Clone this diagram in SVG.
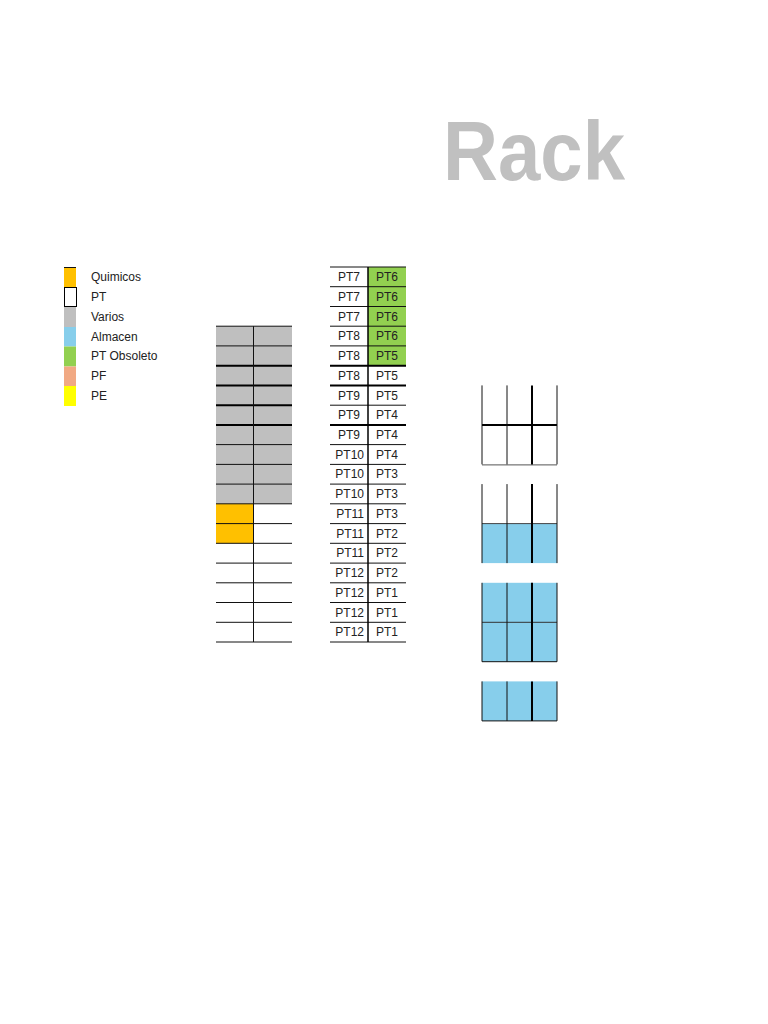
<svg xmlns="http://www.w3.org/2000/svg" width="768" height="1024" viewBox="0 0 768 1024">
<style>
.t{font-family:"Liberation Sans",Arial,sans-serif;font-size:12px;fill:#222}
.r{text-anchor:end}
.ln{stroke:#111;stroke-width:1}
.lt{stroke:#000;stroke-width:2}
.gr{fill:#bfbfbf}
.or{fill:#ffc000}
.bl{fill:#87ceeb}
.gn{fill:#92d050}
</style>
<rect width="768" height="1024" fill="#fff"/>
<text x="443" y="180" font-family="Liberation Sans,Arial,sans-serif" font-weight="bold" font-size="84" fill="#c0c0c0" textLength="182" lengthAdjust="spacingAndGlyphs">Rack</text>

<g id="legend">
<rect x="64" y="267" width="12" height="20" class="or"/>
<line x1="64" y1="267.5" x2="76" y2="267.5" class="ln"/>
<rect x="64.5" y="287.5" width="12" height="19" fill="#fff" stroke="#000" stroke-width="1"/>
<rect x="64" y="307" width="12" height="20" class="gr"/>
<rect x="64" y="327" width="12" height="19.5" class="bl"/>
<rect x="64" y="346.5" width="12" height="20" class="gn"/>
<rect x="64" y="366.5" width="12" height="19.5" fill="#f1a983"/>
<rect x="64" y="386" width="12" height="20" fill="#ffff00"/>
<text class="t" x="91" y="281">Quimicos</text>
<text class="t" x="91" y="301">PT</text>
<text class="t" x="91" y="321">Varios</text>
<text class="t" x="91" y="341">Almacen</text>
<text class="t" x="91" y="360">PT Obsoleto</text>
<text class="t" x="91" y="380">PF</text>
<text class="t" x="91" y="400">PE</text>
</g>

<g id="rack-left">
<rect x="216" y="326.2" width="76" height="177.6" class="gr"/>
<rect x="216" y="503.8" width="37" height="39.5" class="or"/>
<g class="ln">
<line x1="216" y1="326.2" x2="292" y2="326.2"/>
<line x1="216" y1="345.9" x2="292" y2="345.9"/>
<line x1="216" y1="464.4" x2="292" y2="464.4"/>
<line x1="216" y1="484.1" x2="292" y2="484.1"/>
<line x1="216" y1="503.8" x2="292" y2="503.8"/>
<line x1="216" y1="523.6" x2="292" y2="523.6"/>
<line x1="216" y1="543.3" x2="292" y2="543.3"/>
<line x1="216" y1="563.1" x2="292" y2="563.1"/>
<line x1="216" y1="582.8" x2="292" y2="582.8"/>
<line x1="216" y1="602.5" x2="292" y2="602.5"/>
<line x1="216" y1="622.3" x2="292" y2="622.3"/>
<line x1="216" y1="642" x2="292" y2="642"/>
<line x1="216" y1="444.6" x2="292" y2="444.6"/>
</g>
<g class="lt">
<line x1="216" y1="365.7" x2="292" y2="365.7"/>
<line x1="216" y1="385.4" x2="292" y2="385.4"/>
<line x1="216" y1="405.2" x2="292" y2="405.2"/>
<line x1="216" y1="424.9" x2="292" y2="424.9"/>
</g>
<line x1="253.5" y1="326.2" x2="253.5" y2="642" class="ln"/>
</g>

<g id="rack-middle">
<rect x="368" y="267" width="38" height="98.7" class="gn"/>
<g class="ln">
<line x1="330" y1="267" x2="406" y2="267"/>
<line x1="330" y1="286.7" x2="406" y2="286.7"/>
<line x1="330" y1="306.5" x2="406" y2="306.5"/>
<line x1="330" y1="326.2" x2="406" y2="326.2"/>
<line x1="330" y1="345.9" x2="406" y2="345.9"/>
<line x1="330" y1="405.2" x2="406" y2="405.2"/>
<line x1="330" y1="444.6" x2="406" y2="444.6"/>
<line x1="330" y1="464.4" x2="406" y2="464.4"/>
<line x1="330" y1="484.1" x2="406" y2="484.1"/>
<line x1="330" y1="503.8" x2="406" y2="503.8"/>
<line x1="330" y1="523.6" x2="406" y2="523.6"/>
<line x1="330" y1="543.3" x2="406" y2="543.3"/>
<line x1="330" y1="563.1" x2="406" y2="563.1"/>
<line x1="330" y1="582.8" x2="406" y2="582.8"/>
<line x1="330" y1="602.5" x2="406" y2="602.5"/>
<line x1="330" y1="622.3" x2="406" y2="622.3"/>
<line x1="330" y1="642" x2="406" y2="642"/>
</g>
<g class="lt">
<line x1="330" y1="365.7" x2="406" y2="365.7"/>
<line x1="330" y1="385.4" x2="406" y2="385.4"/>
<line x1="330" y1="424.9" x2="406" y2="424.9"/>
</g>
<line x1="368" y1="267" x2="368" y2="642" stroke="#000" stroke-width="1.5"/>
<g class="t">
<text class="r" x="360" y="281">PT7</text>
<text class="r" x="360" y="301">PT7</text>
<text class="r" x="360" y="321">PT7</text>
<text class="r" x="360" y="340">PT8</text>
<text class="r" x="360" y="360">PT8</text>
<text class="r" x="360" y="380">PT8</text>
<text class="r" x="360" y="400">PT9</text>
<text class="r" x="360" y="419">PT9</text>
<text class="r" x="360" y="439">PT9</text>
<text class="r" x="364" y="459">PT10</text>
<text class="r" x="364" y="478">PT10</text>
<text class="r" x="364" y="498">PT10</text>
<text class="r" x="364" y="518">PT11</text>
<text class="r" x="364" y="538">PT11</text>
<text class="r" x="364" y="557">PT11</text>
<text class="r" x="364" y="577">PT12</text>
<text class="r" x="364" y="597">PT12</text>
<text class="r" x="364" y="617">PT12</text>
<text class="r" x="364" y="636">PT12</text>
<text x="376" y="281">PT6</text>
<text x="376" y="301">PT6</text>
<text x="376" y="321">PT6</text>
<text x="376" y="340">PT6</text>
<text x="376" y="360">PT5</text>
<text x="376" y="380">PT5</text>
<text x="376" y="400">PT5</text>
<text x="376" y="419">PT4</text>
<text x="376" y="439">PT4</text>
<text x="376" y="459">PT4</text>
<text x="376" y="478">PT3</text>
<text x="376" y="498">PT3</text>
<text x="376" y="518">PT3</text>
<text x="376" y="538">PT2</text>
<text x="376" y="557">PT2</text>
<text x="376" y="577">PT2</text>
<text x="376" y="597">PT1</text>
<text x="376" y="617">PT1</text>
<text x="376" y="636">PT1</text>
</g>
</g>

<g id="rack-right-1">
<line x1="482" y1="424.9" x2="557" y2="424.9" class="lt"/>
<line x1="482" y1="464.9" x2="557" y2="464.9" stroke="#555" stroke-width="1"/>
<g class="ln"><line x1="482" y1="385.4" x2="482" y2="464.4"/><line x1="507" y1="385.4" x2="507" y2="464.4"/><line x1="557" y1="385.4" x2="557" y2="464.4"/></g>
<line x1="532" y1="385.4" x2="532" y2="464.4" class="lt"/>
</g>

<g id="rack-right-2">
<rect x="482" y="523.6" width="75" height="39.5" class="bl"/>
<line x1="482" y1="523.6" x2="557" y2="523.6" stroke="#444" stroke-width="1"/>
<g class="ln"><line x1="482" y1="484.1" x2="482" y2="563.1"/><line x1="507" y1="484.1" x2="507" y2="563.1"/><line x1="557" y1="484.1" x2="557" y2="563.1"/></g>
<line x1="532" y1="484.1" x2="532" y2="563.1" class="lt"/>
</g>

<g id="rack-right-3">
<rect x="482" y="582.8" width="75" height="78.9" class="bl"/>
<line x1="482" y1="622.3" x2="557" y2="622.3" stroke="#333" stroke-width="1"/>
<line x1="482" y1="661.7" x2="557" y2="661.7" class="ln"/>
<g class="ln"><line x1="482" y1="582.8" x2="482" y2="661.7"/><line x1="507" y1="582.8" x2="507" y2="661.7"/><line x1="557" y1="582.8" x2="557" y2="661.7"/></g>
<line x1="532" y1="582.8" x2="532" y2="661.7" class="lt"/>
</g>

<g id="rack-right-4">
<rect x="482" y="681.4" width="75" height="39.5" class="bl"/>
<line x1="482" y1="720.9" x2="557" y2="720.9" class="ln"/>
<g class="ln"><line x1="482" y1="681.4" x2="482" y2="720.9"/><line x1="507" y1="681.4" x2="507" y2="720.9"/><line x1="557" y1="681.4" x2="557" y2="720.9"/></g>
<line x1="532" y1="681.4" x2="532" y2="720.9" class="lt"/>
</g>
<g id="connectors"/>
</svg>
